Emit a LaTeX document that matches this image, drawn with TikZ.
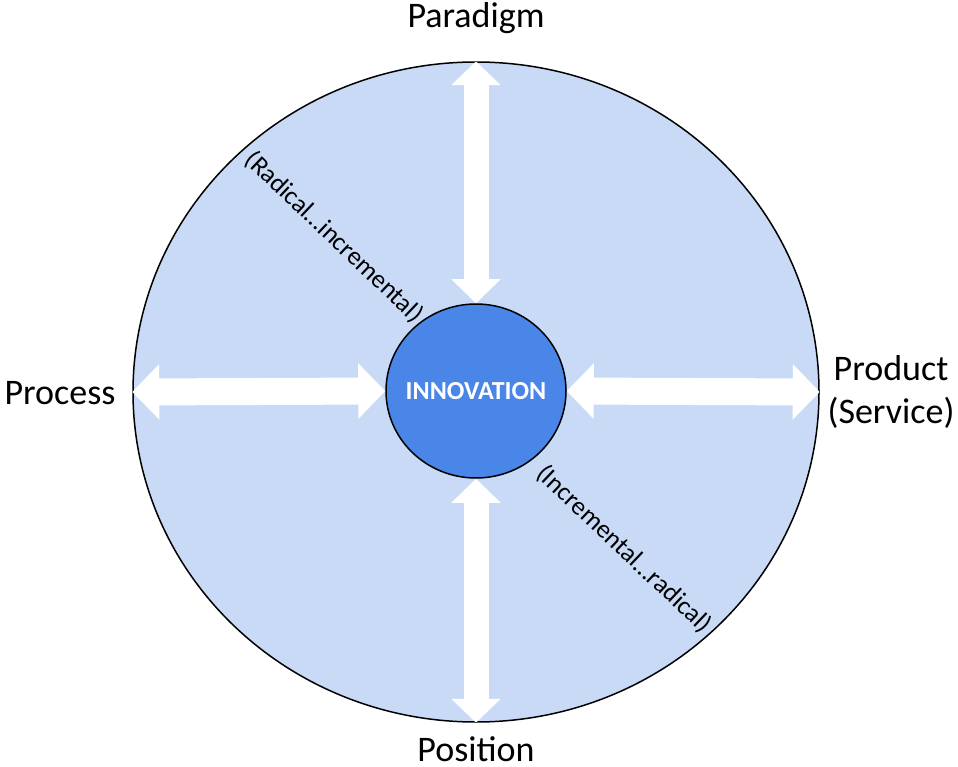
\documentclass[tikz,border=0pt]{standalone}
\usepackage{fontspec}
\setmainfont{Carlito}
\usetikzlibrary{shapes.geometric,arrows.meta}
\definecolor{outerfill}{RGB}{200,218,246}
\definecolor{innerfill}{RGB}{74,134,232}
\tikzset{
  ring/.style={ellipse, draw=black, line width=1.5pt, inner sep=0pt},
  label/.style={font=\fontsize{36}{43}\selectfont, align=center, inner sep=0pt},
  diag/.style={font=\fontsize{26}{30}\selectfont, inner sep=0pt, rotate=-43.5},
  varrow/.style={draw=white, line width=25pt,
    {Triangle[length=24pt,width=48pt]}-{Triangle[length=24pt,width=48pt]}},
  harrow/.style={draw=white, line width=27pt,
    {Triangle[length=27pt,width=54pt]}-{Triangle[length=27pt,width=54pt]}}
}
\begin{document}
\begin{tikzpicture}[x=1pt,y=-1pt]
\useasboundingbox (0,0) rectangle (958,767);
% outer field and central core
\node[ring, fill=outerfill, minimum width=686pt, minimum height=660pt] (outer) at (476,392) {};
\node[ring, fill=innerfill, minimum width=180pt, minimum height=174pt] (core) at (476,391) {};
\node[text=white, font=\fontsize{26}{30}\selectfont\bfseries, inner sep=0pt] (coretext) at (core.center) {INNOVATION};
% four double arrows
\draw[varrow] (core.north) -- (outer.north);
\draw[varrow] (core.south) -- (outer.south);
\draw[harrow] (core.west) -- (outer.west);
\draw[harrow] (core.east) -- (outer.east);
% dimension labels
\node[label] (paradigm) at (476,18) {Paradigm};
\node[label] (process) at (60,393) {Process};
\node[label] (product) at (891,392) {Product\\(Service)};
\node[label] (position) at (476,749) {Position};
% diagonal scale labels
\node[diag] (radinc) at (334,237) {(Radical…incremental)};
\node[diag] (incrad) at (624,549) {(Incremental…radical)};
\end{tikzpicture}
\end{document}
